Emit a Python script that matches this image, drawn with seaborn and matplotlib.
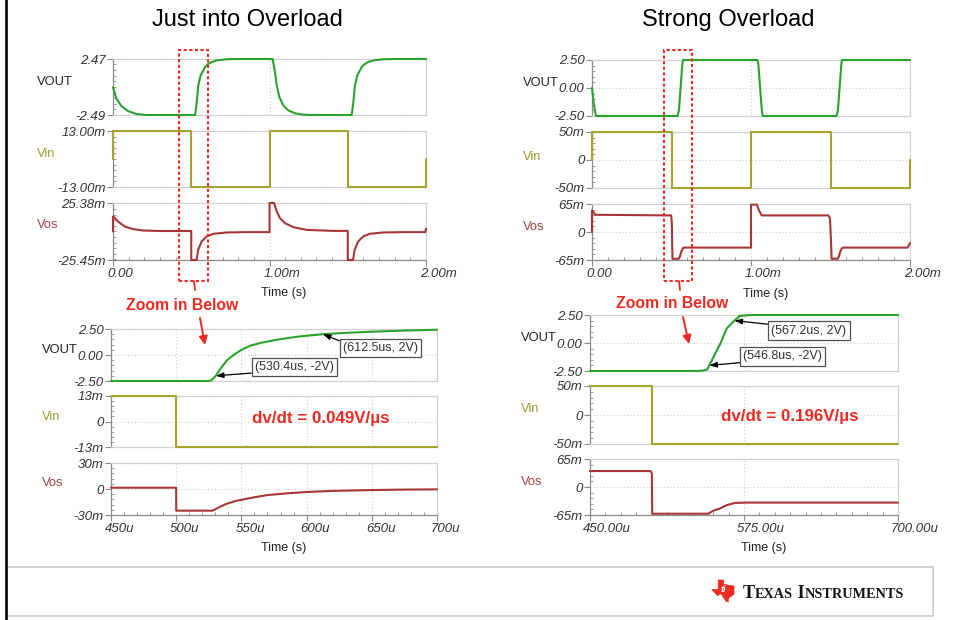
import matplotlib
matplotlib.use("Agg")
import matplotlib.pyplot as plt
import matplotlib.transforms as mtransforms
from matplotlib.patches import Rectangle, Polygon, FancyArrowPatch
from matplotlib.lines import Line2D
from matplotlib.ticker import FixedLocator, MultipleLocator
import seaborn as sns

# ---------------- Just into overload: full 2 ms window (t in ms) ----------------
tl_vout_t = [0.0, 0.021, 0.053, 0.096, 0.149, 0.213, 0.524, 0.530, 0.535, 0.545, 0.560,
             0.588, 0.604, 0.625, 0.663, 0.726, 0.800, 1.020, 1.035, 1.046, 1.063, 1.088,
             1.120, 1.163, 1.216, 1.280, 1.525, 1.530, 1.536, 1.546, 1.561, 1.589, 1.605,
             1.625, 1.663, 1.727, 1.800, 2.000]
tl_vout_v = [-0.05, -1.01, -1.69, -2.14, -2.40, -2.49, -2.49, -2.00, -1.34, 0.14, 1.02,
             1.76, 1.98, 2.17, 2.34, 2.45, 2.47, 2.47, 1.32, 0.14, -0.90, -1.63,
             -2.08, -2.34, -2.46, -2.49, -2.49, -2.00, -1.34, 0.14, 1.02, 1.76, 1.98,
             2.17, 2.34, 2.45, 2.47, 2.47]
tl_vin_t = [0.0, 0.0, 0.5, 0.5, 1.0, 1.0, 1.5, 1.5, 2.0, 2.0]
tl_vin_v = [0, 13, 13, -13, -13, 13, 13, -13, -13, 0]                     # mV
tl_vos_t = [0.0, 0.0, 0.008, 0.032, 0.075, 0.128, 0.192, 0.30, 0.5,
            0.5, 0.534, 0.544, 0.566, 0.598, 0.640, 0.726, 0.85, 1.0,
            1.0, 1.029, 1.046, 1.067, 1.099, 1.153, 1.238, 1.409, 1.5,
            1.5, 1.534, 1.544, 1.566, 1.598, 1.640, 1.726, 1.85, 1.995, 2.0]
tl_vos_v = [0.0, 13.4, 12.5, 8.9, 4.4, 2.1, 0.86, 0.4, 0.4,
            -25.45, -25.45, -16.5, -9.0, -4.5, -2.1, -0.9, -0.6, -0.6,
            25.38, 25.38, 17.9, 11.9, 7.4, 3.8, 1.4, 0.5, 0.5,
            -25.45, -25.45, -16.5, -9.0, -4.5, -2.1, -0.9, -0.6, -0.6, 2.5]  # mV

# ---------------- Strong overload: full 2 ms window (t in ms) ----------------
tr_vout_t = [0.0, 0.012, 0.025, 0.537, 0.5468, 0.5672, 0.572, 1.040, 1.047, 1.068, 1.074,
             1.537, 1.5468, 1.5672, 1.572, 2.0]
tr_vout_v = [0.0, -1.5, -2.5, -2.5, -2.0, 2.0, 2.5, 2.5, 2.0, -2.0, -2.5,
             -2.5, -2.0, 2.0, 2.5, 2.5]
tr_vin_t = [0.0, 0.0, 0.5, 0.5, 1.0, 1.0, 1.5, 1.5, 2.0, 2.0]
tr_vin_v = [0, 50, 50, -50, -50, 50, 50, -50, -50, 0]                     # mV
tr_vos_t = [0.0, 0.0, 0.004, 0.021, 0.498, 0.502, 0.506, 0.545, 0.552, 0.562, 0.572, 0.580,
            1.0, 1.0, 1.037, 1.050, 1.068, 1.487, 1.497, 1.503, 1.507, 1.545, 1.552,
            1.562, 1.572, 1.580, 1.985, 2.0]
tr_vos_v = [0.0, 50.0, 48.0, 40.0, 38.5, 20.0, -62.0, -62.0, -58.0, -45.0, -37.5, -36.2,
            -36.2, 63.5, 63.5, 50.0, 38.5, 38.5, 30.0, -20.0, -62.0, -62.0, -58.0,
            -45.0, -37.5, -36.2, -36.2, -26.0]                                # mV

# ---------------- Zoomed views, 450 us .. 700 us (t in us) ----------------
bl_vout_t = [450, 525, 527, 530.4, 534, 539, 544, 550, 557, 565, 575, 585, 595, 612.5,
             630, 650, 675, 700]
bl_vout_v = [-2.5, -2.5, -2.42, -2.0, -1.3, -0.5, 0.0, 0.5, 0.9, 1.17, 1.42, 1.62, 1.79, 2.0,
             2.13, 2.24, 2.35, 2.43]
bl_vin_t = [450, 500, 500, 700]
bl_vin_v = [13, 13, -13, -13]
bl_vos_t = [450, 500, 500, 528, 533, 538, 545, 550, 560, 570, 585, 600, 620, 650, 675, 700]
bl_vos_v = [1.5, 1.5, -25, -25, -21, -17.5, -14, -12.5, -9.5, -7.0, -5.0, -3.5, -2.2,
            -1.2, -0.7, -0.4]

br_vout_t = [450, 536, 541, 545, 546.8, 556, 561, 567.2, 571.5, 580, 700]
br_vout_v = [-2.5, -2.5, -2.47, -2.38, -2.0, 0.0, 1.3, 2.0, 2.42, 2.5, 2.5]
br_vin_t = [450, 500, 500, 700]
br_vin_v = [50, 50, -50, -50]
br_vos_t = [450, 499.2, 500.2, 500.5, 546, 550, 555.4, 560.8, 567.6, 577, 700]
br_vos_v = [37, 37, 31, -62, -62, -55, -50, -42.3, -37, -36.2, -36.2]

# cursor read-outs on the zoomed VOUT traces
bl_mark_t = [530.4, 612.5]
bl_mark_v = [-2.0, 2.0]
bl_mark_text = ["(530.4us, -2V)", "(612.5us, 2V)"]
br_mark_t = [546.8, 567.2]
br_mark_v = [-2.0, 2.0]
br_mark_text = ["(546.8us, -2V)", "(567.2us, 2V)"]

# axis ticks
full_xticks = [0.0, 1.0, 2.0]
full_xlabels = ["0.00", "1.00m", "2.00m"]
bl_xticks = [450, 500, 550, 600, 650, 700]
bl_xlabels = ["450u", "500u", "550u", "600u", "650u", "700u"]
br_xticks = [450, 575, 700]
br_xlabels = ["450.00u", "575.00u", "700.00u"]

titles = ["Just into Overload", "Strong Overload"]
slew_text = ["dv/dt = 0.049V/\u00b5s", "dv/dt = 0.196V/\u00b5s"]

# Texas outline for the logo (lon, lat)
texas_lon = [-106.6, -103.06, -103.04, -100.0, -100.0, -97.0, -95.5, -94.04, -94.04, -94.7,
             -95.5, -96.5, -97.2, -97.4, -97.2, -98.5, -99.5, -100.3, -101.0, -102.4,
             -103.0, -104.0, -104.7, -106.6]
texas_lat = [32.0, 32.0, 36.5, 36.5, 34.56, 33.9, 33.85, 33.55, 29.7, 29.3,
             28.8, 28.3, 27.6, 26.9, 25.95, 26.2, 27.5, 28.3, 29.7, 29.8,
             29.0, 29.4, 30.2, 31.8]

# ---------------- styling ----------------
sns.set_style("white")
plt.rcParams["font.family"] = ["Liberation Sans", "DejaVu Sans"]

GREEN = "#2aa22c"
OLIVE = "#a6a42c"
BROWN = "#a83636"
VIN_LBL = "#9c9a2a"
VOS_LBL = "#a44440"
RED = "#ee2b22"
FRAME = "#d2d2d2"
AXIS = "#8c8c8c"
TICK = "#333333"

W, H = 959, 620
fig = plt.figure(figsize=(W / 100, H / 100), dpi=100)
fig.patch.set_facecolor("white")


def fx(x):
    return x / W


def fy(y):
    return 1 - y / H


def add_panel(x0, x1, y0, y1):
    return fig.add_axes([fx(x0), fy(y1), (x1 - x0) / W, (y1 - y0) / H])


def draw_trace(ax, t, v, color):
    sns.lineplot(x=t, y=v, ax=ax, color=color, linewidth=1.5,
                 estimator=None, sort=False)
    for ln in ax.lines:
        ln.set_clip_on(False)
        ln.set_zorder(3)
        ln.set_solid_joinstyle("round")


def style_panel(ax, xlim, xticks, xminor, ylim, yticks, ylabels, yminor,
                xlabels=None, xlab_dx=-6):
    ax.set_xlim(*xlim)
    ax.set_ylim(*ylim)
    ax.set_axisbelow(True)
    ax.set_xlabel("")
    ax.set_ylabel("")
    ax.xaxis.set_major_locator(FixedLocator(xticks))
    ax.xaxis.set_minor_locator(MultipleLocator(xminor))
    ax.yaxis.set_major_locator(FixedLocator(yticks))
    ax.yaxis.set_minor_locator(MultipleLocator(yminor))
    ax.set_yticklabels(ylabels, fontstyle="italic")
    ax.grid(True, which="major", linestyle=(0, (1, 2)), color="#cfcfcf", linewidth=0.8)
    for side in ("top", "right", "bottom"):
        ax.spines[side].set_color(FRAME)
    ax.spines["left"].set_color(AXIS)
    for sp in ax.spines.values():
        sp.set_linewidth(0.9)
    ax.tick_params(axis="y", which="major", left=True, direction="out", length=4,
                   width=0.8, color=AXIS, pad=1.5, labelsize=9.5, labelcolor=TICK)
    ax.tick_params(axis="y", which="minor", left=True, direction="in", length=2.5,
                   width=0.6, color=AXIS)
    if xlabels is None:
        ax.tick_params(axis="x", which="both", bottom=False, labelbottom=False)
    else:
        ax.spines["bottom"].set_color(AXIS)
        ax.tick_params(axis="x", which="major", bottom=True, direction="out", length=4,
                       width=0.8, color=AXIS, labelbottom=False)
        ax.tick_params(axis="x", which="minor", bottom=True, direction="in", length=2.5,
                       width=0.6, color=AXIS)
        tr = (mtransforms.blended_transform_factory(ax.transData, ax.transAxes)
              + mtransforms.ScaledTranslation(xlab_dx / 100, -8 / 100, fig.dpi_scale_trans))
        for xt, lab in zip(xticks, xlabels):
            ax.text(xt, 0, lab, transform=tr, ha="left", va="top", fontsize=9.5,
                    fontstyle="italic", color=TICK, clip_on=False)


def series_label(x, y, text, color):
    fig.text(fx(x), fy(y), text, ha="left", va="center", fontsize=9.3, color=color)


# ---------------- top-left: just into overload ----------------
ax = add_panel(113, 426, 59, 115)
draw_trace(ax, tl_vout_t, tl_vout_v, GREEN)
style_panel(ax, (0, 2), full_xticks, 0.1, (-2.49, 2.47), [-2.49, 2.47], ["-2.49", "2.47"], 0.5)
ax = add_panel(113, 426, 131, 187)
draw_trace(ax, tl_vin_t, tl_vin_v, OLIVE)
style_panel(ax, (0, 2), full_xticks, 0.1, (-13, 13), [-13, 13], ["-13.00m", "13.00m"], 2.6)
ax = add_panel(113, 426, 203, 260)
draw_trace(ax, tl_vos_t, tl_vos_v, BROWN)
style_panel(ax, (0, 2), full_xticks, 0.1, (-25.45, 25.38), [-25.45, 25.38],
            ["-25.45m", "25.38m"], 5, xlabels=full_xlabels)

# ---------------- top-right: strong overload ----------------
ax = add_panel(592, 910, 60, 116)
draw_trace(ax, tr_vout_t, tr_vout_v, GREEN)
style_panel(ax, (0, 2), full_xticks, 0.1, (-2.5, 2.5), [-2.5, 0, 2.5],
            ["-2.50", "0.00", "2.50"], 0.5)
ax = add_panel(592, 910, 132, 188)
draw_trace(ax, tr_vin_t, tr_vin_v, OLIVE)
style_panel(ax, (0, 2), full_xticks, 0.1, (-50, 50), [-50, 0, 50], ["-50m", "0", "50m"], 10)
ax = add_panel(592, 910, 204, 260)
draw_trace(ax, tr_vos_t, tr_vos_v, BROWN)
style_panel(ax, (0, 2), full_xticks, 0.1, (-65, 65), [-65, 0, 65], ["-65m", "0", "65m"], 13,
            xlabels=full_xlabels)

# ---------------- bottom-left: zoom, just into overload ----------------
ax_bl = add_panel(111, 437, 329, 381)
draw_trace(ax_bl, bl_vout_t, bl_vout_v, GREEN)
style_panel(ax_bl, (450, 700), bl_xticks, 10, (-2.5, 2.5), [-2.5, 0, 2.5],
            ["-2.50", "0.00", "2.50"], 0.5)
ax = add_panel(111, 437, 396, 447)
draw_trace(ax, bl_vin_t, bl_vin_v, OLIVE)
style_panel(ax, (450, 700), bl_xticks, 10, (-13, 13), [-13, 0, 13], ["-13m", "0", "13m"], 2.6)
ax = add_panel(111, 437, 463, 515)
draw_trace(ax, bl_vos_t, bl_vos_v, BROWN)
style_panel(ax, (450, 700), bl_xticks, 10, (-30, 30), [-30, 0, 30], ["-30m", "0", "30m"], 6,
            xlabels=bl_xlabels)

# ---------------- bottom-right: zoom, strong overload ----------------
ax_br = add_panel(590, 898, 315, 371)
draw_trace(ax_br, br_vout_t, br_vout_v, GREEN)
style_panel(ax_br, (450, 700), br_xticks, 12.5, (-2.5, 2.5), [-2.5, 0, 2.5],
            ["-2.50", "0.00", "2.50"], 0.5)
ax = add_panel(590, 898, 386, 444)
draw_trace(ax, br_vin_t, br_vin_v, OLIVE)
style_panel(ax, (450, 700), br_xticks, 12.5, (-50, 50), [-50, 0, 50], ["-50m", "0", "50m"], 10)
ax = add_panel(590, 898, 459, 515)
draw_trace(ax, br_vos_t, br_vos_v, BROWN)
style_panel(ax, (450, 700), br_xticks, 12.5, (-65, 65), [-65, 0, 65], ["-65m", "0", "65m"], 13,
            xlabels=br_xlabels, xlab_dx=-7)

# ---------------- cursor read-outs ----------------
box = dict(boxstyle="square,pad=0.25", fc="white", ec="#505050", lw=0.9)


def readout(ax, t, v, text, dx, dy, va, relpos):
    ax.annotate(text, xy=(t, v), xytext=(dx, dy), textcoords="offset pixels",
                ha="left", va=va, fontsize=9, color=TICK, bbox=box, zorder=5,
                arrowprops=dict(arrowstyle="-|>,head_length=0.5,head_width=0.18",
                                color="black", lw=0.9, shrinkA=0, shrinkB=0,
                                relpos=relpos))


readout(ax_bl, bl_mark_t[0], bl_mark_v[0], bl_mark_text[0], 39, 3, "bottom", (0, 0))
readout(ax_bl, bl_mark_t[1], bl_mark_v[1], bl_mark_text[1], 20, -8, "top", (0, 1))
readout(ax_br, br_mark_t[0], br_mark_v[0], br_mark_text[0], 34, 3, "bottom", (0, 0))
readout(ax_br, br_mark_t[1], br_mark_v[1], br_mark_text[1], 37, -4, "top", (0, 1))

# ---------------- trace names ----------------
for (x, yv, yi, yo) in [(37, 82, 154, 225), (523, 83, 157, 227),
                        (42, 350, 417, 483), (521, 338, 409, 482)]:
    series_label(x, yv, "VOUT", "#222222")
    series_label(x, yi, "Vin", VIN_LBL)
    series_label(x, yo, "Vos", VOS_LBL)

# axis titles
for (x, y) in [(284, 293), (766, 294), (284, 548), (764, 548)]:
    fig.text(fx(x), fy(y), "Time (s)", ha="center", va="center", fontsize=9, color="#222222")

# panel headings
fig.text(fx(247), fy(20), titles[0], ha="center", va="center", fontsize=17, color="black")
fig.text(fx(728), fy(20), titles[1], ha="center", va="center", fontsize=17, color="black")

# slew-rate call-outs
fig.text(fx(321), fy(419), slew_text[0], ha="center", va="center", fontsize=12.2,
         fontweight="bold", color=RED)
fig.text(fx(790), fy(417), slew_text[1], ha="center", va="center", fontsize=12.2,
         fontweight="bold", color=RED)

# zoom windows and pointers
for (x0, x1, tx, lx, ty, a0, a1) in [(179, 208, 194, 182, 306, (200, 318), (205, 345)),
                                     (664, 692, 679, 672, 304, (683, 317), (689, 344))]:
    fig.patches.append(Rectangle((fx(x0), fy(281)), (x1 - x0) / W, (281 - 50) / H,
                                 transform=fig.transFigure, fill=False, ec=RED, lw=1.5,
                                 linestyle=(0, (1.5, 1.2))))
    fig.lines.append(Line2D([fx(tx), fx(tx + 1)], [fy(281), fy(290)],
                            transform=fig.transFigure, color=RED, lw=1.3))
    fig.text(fx(lx), fy(ty), "Zoom in Below", ha="center", va="center", fontsize=11.3,
             fontweight="bold", color=RED)
    fig.patches.append(FancyArrowPatch((fx(a0[0]), fy(a0[1])), (fx(a1[0]), fy(a1[1])),
                                       transform=fig.transFigure,
                                       arrowstyle="-|>,head_length=5,head_width=2.5",
                                       color=RED, lw=1.4, shrinkA=0, shrinkB=0))

# slide frame
fig.lines.append(Line2D([fx(6), fx(6)], [0, 1], transform=fig.transFigure,
                        color="black", lw=1.9))
fig.patches.append(Rectangle((fx(7), fy(616)), (933 - 7) / W, (616 - 567) / H,
                             transform=fig.transFigure, fill=False, ec="#c8c8c8", lw=1.1))

# logo mark
lon0, lon1 = min(texas_lon), max(texas_lon)
lat0, lat1 = min(texas_lat), max(texas_lat)
pts = [(fx(712 + (lo - lon0) / (lon1 - lon0) * 22), fy(602 - (la - lat0) / (lat1 - lat0) * 22))
       for lo, la in zip(texas_lon, texas_lat)]
fig.patches.append(Polygon(pts, closed=True, transform=fig.transFigure,
                           fc=RED, ec=RED, lw=0.5))
fig.text(fx(723), fy(590), "ti", ha="center", va="center", fontsize=6.5,
         fontweight="bold", fontstyle="italic", color="white")

# small-caps word mark
pieces = [("T", 1.0), ("EXAS", 0.78), (" I", 1.0), ("NSTRUMENTS", 0.78)]
renderer = fig.canvas.get_renderer()
base = 13.0
probe_w = 0.0
for s, k in pieces:
    tt = fig.text(0, 0, s, fontsize=base * k, family="Liberation Serif", fontweight="bold")
    probe_w += tt.get_window_extent(renderer=renderer).width
    tt.remove()
scale = 162.0 / probe_w
x = 743.0
for s, k in pieces:
    tt = fig.text(fx(x), fy(598), s, fontsize=base * k * scale, family="Liberation Serif",
                  fontweight="bold", ha="left", va="baseline", color="#151515")
    x += tt.get_window_extent(renderer=renderer).width

fig.savefig("out.png", dpi=100, facecolor="white")
